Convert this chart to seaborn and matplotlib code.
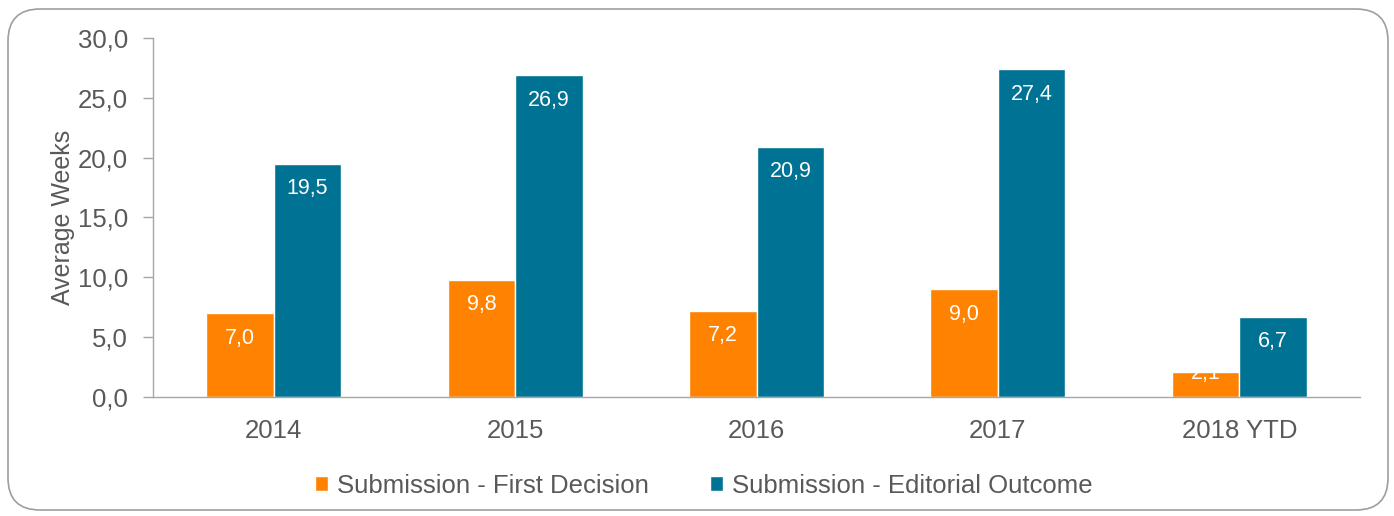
import pandas as pd
import matplotlib.pyplot as plt
from matplotlib.patches import FancyBboxPatch
from matplotlib.ticker import FixedLocator
import seaborn as sns

years = ["2014", "2015", "2016", "2017", "2018 YTD"]
first_decision = [7.0, 9.8, 7.2, 9.0, 2.1]
editorial_outcome = [19.5, 26.9, 20.9, 27.4, 6.7]
series_names = ["Submission - First Decision", "Submission - Editorial Outcome"]
y_ticks = [0, 5, 10, 15, 20, 25, 30]

df = pd.DataFrame({
    "year": years * 2,
    "weeks": first_decision + editorial_outcome,
    "series": [series_names[0]] * len(years) + [series_names[1]] * len(years),
})

sns.set_style("white")
plt.rcParams['font.family'] = ['Liberation Sans', 'DejaVu Sans']
text_col = "#595959"
axis_col = "#A6A6A6"

fig = plt.figure(figsize=(13.94, 5.16), dpi=100)
ax = fig.add_axes([0.1098, 0.2306, 0.9756 - 0.1098, 0.9264 - 0.2306])

sns.barplot(data=df, x="year", y="weeks", hue="series", order=years,
            hue_order=series_names, palette=["#FF8200", "#007294"],
            width=0.56, edgecolor="white", linewidth=1, saturation=1, ax=ax)

ax.set_ylim(0, 30)
ax.set_yticks(y_ticks)
ax.set_yticklabels([f"{v:.1f}".replace(".", ",") for v in y_ticks])
ax.set_xlim(-0.5, len(years) - 0.5)
ax.xaxis.set_minor_locator(FixedLocator([i - 0.5 for i in range(len(years) + 1)]))
ax.tick_params(axis="x", which="major", length=0, pad=16, labelsize=18.5, labelcolor=text_col)
ax.tick_params(axis="x", which="minor", length=7, width=1, color=axis_col, direction="out")
ax.tick_params(axis="y", length=7, width=1, color=axis_col, direction="out",
               pad=11, labelsize=18.5, labelcolor=text_col, left=True)
ax.set_xlabel("")
ax.set_ylabel("Average Weeks", fontsize=18, color=text_col, labelpad=2)
for side in ["top", "right"]:
    ax.spines[side].set_visible(False)
for side in ["left", "bottom"]:
    ax.spines[side].set_color(axis_col)
    ax.spines[side].set_linewidth(1)

# value labels inside the bar tops
for container in ax.containers:
    for bar in container:
        h = bar.get_height()
        off = -18 if h > 4 else -1
        ax.annotate(f"{h:.1f}".replace(".", ","),
                    (bar.get_x() + bar.get_width() / 2, h),
                    xytext=(0, off), textcoords="offset points",
                    ha="center", va="center", color="white", fontsize=15.5)

ax.legend(loc="center", bbox_to_anchor=(0.4565, -0.247), ncol=2, frameon=False,
          fontsize=18.5, labelcolor=text_col, handlelength=0.5, handleheight=0.5,
          handletextpad=0.35, columnspacing=2.4)

border = FancyBboxPatch((0.08, 0.06), 13.8, 5.01,
                        boxstyle="round,pad=0,rounding_size=0.32",
                        transform=fig.dpi_scale_trans, facecolor="none",
                        edgecolor="#9E9E9E", linewidth=1.2)
fig.patches.append(border)

fig.savefig("out.png", dpi=100)
